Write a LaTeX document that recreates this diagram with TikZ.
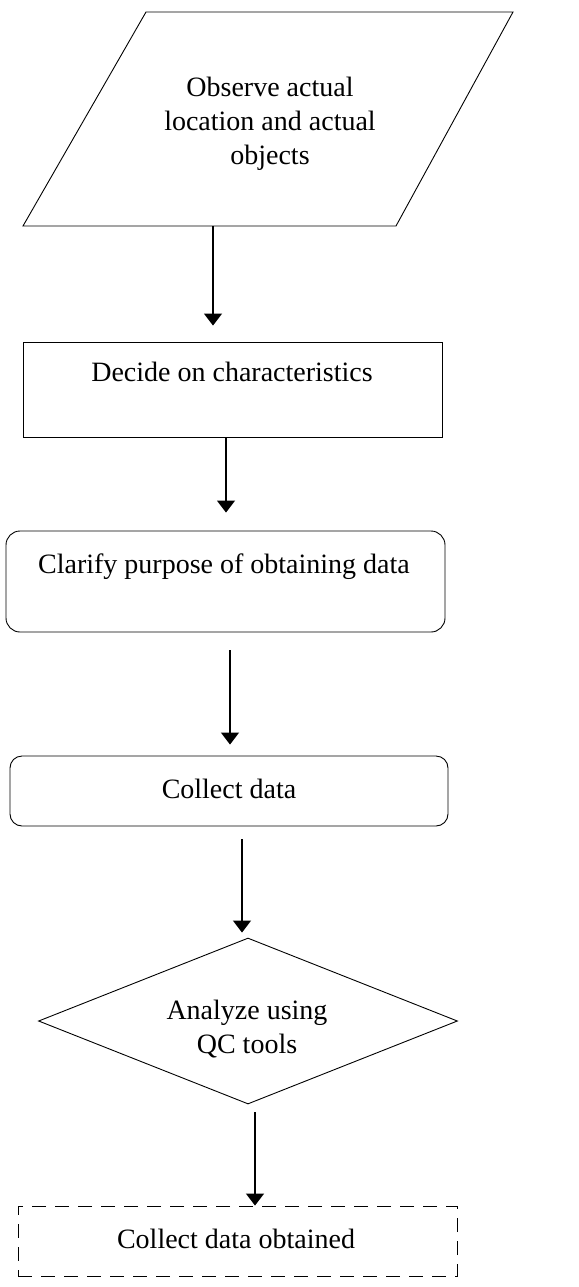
\documentclass[tikz,border=0pt]{standalone}
\usepackage{fontspec}
\setmainfont{Liberation Serif}
\usetikzlibrary{arrows.meta,shapes.geometric}
\begin{document}
\begin{tikzpicture}[x=1pt,y=-1pt,
  outline/.style={draw=black,line width=0.9pt},
  boxnode/.style={outline,rectangle,inner sep=0pt},
  roundnode/.style={outline,rectangle,rounded corners=14pt,inner sep=0pt},
  label/.style={font=\fontsize{28}{34}\selectfont,align=center,inner sep=0pt},
  arr/.style={line width=1.3pt,-{Triangle[width=18pt,length=12pt]}}]
\useasboundingbox (0,0) rectangle (578,1287);
% parallelogram
\draw[outline] (146,12) -- (513,12) -- (396,226) -- (23,226) -- cycle;
\node[label] (obs) at (270,124) {Observe actual\\location and actual\\objects};
\coordinate (obsB) at (213,226);
% boxes
\node[boxnode,minimum width=419pt,minimum height=95pt] (dec) at (232.5,389.5) {};
\node[label] (decT) at (232,372) {Decide on characteristics};
\node[roundnode,minimum width=439pt,minimum height=101pt] (cla) at (225.5,581.5) {};
\node[label] (claT) at (224,567) {Clarify purpose of obtaining data};
\node[roundnode,rounded corners=12pt,minimum width=438pt,minimum height=70pt] (col) at (229,791) {};
\node[label] (colT) at (229,789) {Collect data};
\node[outline,diamond,inner sep=0pt,minimum width=419pt,minimum height=166pt] (ana) at (248,1021) {};
\node[label] (anaT) at (247,1029) {Analyze using\\QC tools};
\node[outline,rectangle,inner sep=0pt,dash pattern=on 14pt off 9pt,minimum width=439pt,minimum height=70pt] (fin) at (237.5,1241) {};
\node[label] (finT) at (236,1239) {Collect data obtained};
% x positions of connectors
\coordinate (x2) at (226,0);
\coordinate (x3) at (230,0);
\coordinate (x4) at (242,0);
\coordinate (x5) at (255,0);
% connectors
\draw[arr,shorten >=16pt] (obsB) -- (dec.north -| obsB);
\draw[arr,shorten >=18pt] (dec.south -| x2) -- (cla.north -| x2);
\draw[arr,shorten <=18pt,shorten >=11pt] (cla.south -| x3) -- (col.north -| x3);
\draw[arr,shorten <=13pt,shorten >=5pt] (col.south -| x4) -- (ana.north -| x4);
\draw[arr,shorten <=8pt] (ana.south -| x5) -- (fin.north -| x5);
\end{tikzpicture}
\end{document}
